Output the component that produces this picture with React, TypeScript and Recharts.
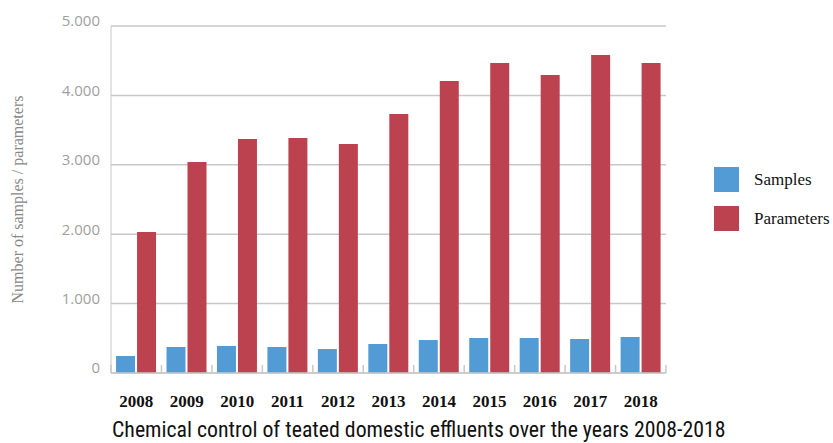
import React from "react";
import { BarChart, Bar, XAxis, YAxis, CartesianGrid } from "recharts";

const years = ["2008", "2009", "2010", "2011", "2012", "2013", "2014", "2015", "2016", "2017", "2018"];
const samples = [245, 375, 390, 375, 345, 418, 475, 504, 504, 490, 519];
const parameters = [2032, 3040, 3372, 3386, 3300, 3732, 4207, 4467, 4294, 4582, 4467];
const yTicks = [0, 1000, 2000, 3000, 4000, 5000];

const data = years.map((y, i) => ({ year: y, Samples: samples[i], Parameters: parameters[i] }));

const series = [
  { key: "Samples", color: "#529bd4" },
  { key: "Parameters", color: "#bd4250" },
];

const GRID = "#c8c8c8";
const PLOT_W = 555;
const TICK_MARGIN = 22;

const fmt = (v: number) => (v === 0 ? "0" : v.toLocaleString("de-DE"));

const YearTick = (props: any) => {
  const { x, y, payload, index } = props;
  const bw = PLOT_W / years.length;
  const axisY = y - TICK_MARGIN;
  return (
    <g>
      {index === 0 && (
        <line x1={x - bw / 2} x2={x - bw / 2} y1={axisY - 8} y2={axisY} stroke={GRID} strokeWidth={1.5} />
      )}
      <line x1={x + bw / 2} x2={x + bw / 2} y1={axisY - 8} y2={axisY} stroke={GRID} strokeWidth={1.5} />
      <text
        x={x}
        y={y}
        dy="0.71em"
        textAnchor="middle"
        fill="#111"
        fontFamily="'Liberation Serif', serif"
        fontWeight={700}
        fontSize={17}
      >
        {payload.value}
      </text>
    </g>
  );
};

export default function App() {
  return (
    <div style={{ position: "absolute", left: 0, top: 0, width: 833, height: 443, background: "#fff" }}>
      <BarChart
        width={833}
        height={443}
        data={data}
        margin={{ top: 26, right: 167, bottom: 30, left: 11 }}
        barCategoryGap="10%"
        barGap={2}
      >
        <CartesianGrid vertical={false} stroke={GRID} strokeWidth={1.5} />
        <XAxis
          dataKey="year"
          height={40}
          interval={0}
          tickLine={false}
          tickSize={0}
          tickMargin={TICK_MARGIN}
          axisLine={{ stroke: GRID, strokeWidth: 1.5 }}
          tick={<YearTick />}
        />
        <YAxis
          width={100}
          domain={[0, 5000]}
          ticks={yTicks}
          tickFormatter={fmt}
          tickLine={false}
          tickSize={0}
          tickMargin={11}
          axisLine={{ stroke: GRID }}
          tick={{ fill: "#a0a0a0", fontFamily: "'Open Sans', sans-serif", fontSize: 15, dy: -5 }}
          label={{
            value: "Number of samples / parameters",
            angle: -90,
            position: "insideLeft",
            offset: 6,
            style: { textAnchor: "middle", fill: "#888", fontFamily: "'Liberation Serif', serif", fontSize: 16 },
          }}
        />
        {series.map((s) => (
          <Bar key={s.key} dataKey={s.key} fill={s.color} isAnimationActive={false} />
        ))}
      </BarChart>
      <div style={{ position: "absolute", left: 714, top: 167 }}>
        {series.map((s) => (
          <div key={s.key} style={{ display: "flex", alignItems: "center", height: 25, marginBottom: 14 }}>
            <div style={{ width: 25, height: 25, background: s.color, marginRight: 15 }} />
            <span style={{ fontFamily: "'Liberation Serif', serif", fontSize: 17, color: "#111" }}>{s.key}</span>
          </div>
        ))}
      </div>
      <div
        style={{
          position: "absolute",
          left: 112,
          top: 418,
          fontFamily: "'Roboto Condensed', 'Liberation Sans Narrow', sans-serif",
          fontSize: 21.8,
          color: "#111",
          whiteSpace: "nowrap",
          lineHeight: "24px",
        }}
      >
        Chemical control of teated domestic effluents over the years 2008-2018
      </div>
    </div>
  );
}
